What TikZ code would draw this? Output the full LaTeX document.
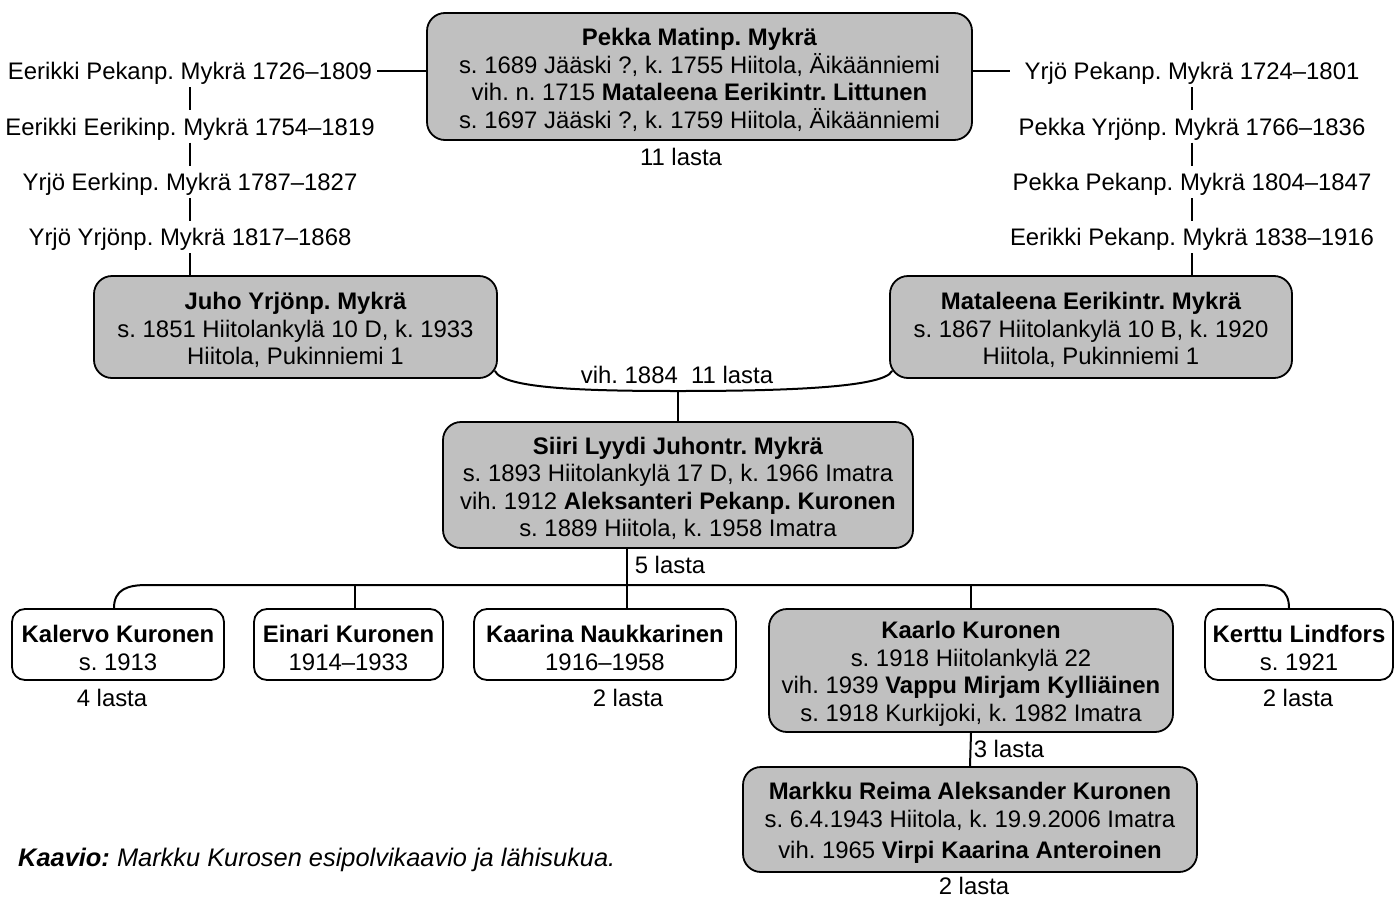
\documentclass[tikz,border=0pt]{standalone}
\usepackage{fontspec}
\setmainfont{Liberation Sans}
\usetikzlibrary{calc}
\definecolor{boxgray}{RGB}{192,192,192}
\newcommand\myfs{\fontsize{23.9}{27.5}\selectfont}
\newcommand\tp{\rule{0pt}{24pt}}
\frenchspacing
\begin{document}
\frenchspacing
\begin{tikzpicture}[x=1pt,y=-1pt,
  gbox/.style={draw, fill=boxgray, line width=1.8pt, rounded corners=18pt, align=center, inner sep=0pt, font=\myfs},
  wbox/.style={draw, fill=white, line width=1.8pt, rounded corners=13pt, align=center, inner sep=0pt, font=\myfs},
  chain/.style={font=\myfs, inner xsep=5pt, inner ysep=7.5pt, text height=17pt, text depth=0pt},
  lbl/.style={font=\myfs, inner sep=0pt},
  conn/.style={line width=2pt},
  tick/.style={line width=1.4pt}]
\fill[white] (0,0) rectangle (1400,897);
\useasboundingbox (0,0) rectangle (1400,897);

% top couple
\node[gbox, minimum width=545pt, minimum height=127pt] (pekka) at (699.5,76.5)
  {\tp\textbf{Pekka Matinp. Mykrä}\\ s. 1689 Jääski ?, k. 1755 Hiitola, Äikäänniemi\\ vih. n. 1715 \textbf{Mataleena Eerikintr. Littunen}\\ s. 1697 Jääski ?, k. 1759 Hiitola, Äikäänniemi};
\node[lbl] (l11) at (681,157) {11 lasta};

% left chain
\node[chain] (e1) at (190,71) {Eerikki Pekanp. Mykrä 1726–1809};
\node[chain] (e2) at (190,126.5) {Eerikki Eerikinp. Mykrä 1754–1819};
\node[chain] (e3) at (190,182) {Yrjö Eerkinp. Mykrä 1787–1827};
\node[chain] (e4) at (190,237) {Yrjö Yrjönp. Mykrä 1817–1868};

% right chain
\node[chain] (y1) at (1192,71) {Yrjö Pekanp. Mykrä 1724–1801};
\node[chain] (y2) at (1192,126.5) {Pekka Yrjönp. Mykrä 1766–1836};
\node[chain] (y3) at (1192,182) {Pekka Pekanp. Mykrä 1804–1847};
\node[chain] (y4) at (1192,237) {Eerikki Pekanp. Mykrä 1838–1916};

% parents
\node[gbox, minimum width=403pt, minimum height=102pt] (juho) at (295.5,327)
  {\tp\textbf{Juho Yrjönp. Mykrä}\\ s. 1851 Hiitolankylä 10 D, k. 1933\\ Hiitola, Pukinniemi 1};
\node[gbox, minimum width=402pt, minimum height=102pt] (mataleena) at (1091,327)
  {\tp\textbf{Mataleena Eerikintr. Mykrä}\\ s. 1867 Hiitolankylä 10 B, k. 1920\\ Hiitola, Pukinniemi 1};
\node[lbl] (lvih) at (677,375) {vih. 1884\ \ 11 lasta};

% Siiri
\node[gbox, minimum width=470pt, minimum height=126pt] (siiri) at (678,485)
  {\tp\textbf{Siiri Lyydi Juhontr. Mykrä}\\ s. 1893 Hiitolankylä 17 D, k. 1966 Imatra\\ vih. 1912 \textbf{Aleksanteri Pekanp. Kuronen}\\ s. 1889 Hiitola, k. 1958 Imatra};
\node[lbl] (l5) at (670,565) {5 lasta};

% children
\node[wbox, minimum width=212pt, minimum height=71pt] (kalervo) at (118,644.5)
  {\tp\textbf{Kalervo Kuronen}\\ s. 1913};
\node[wbox, minimum width=189pt, minimum height=71pt] (einari) at (348.5,644.5)
  {\tp\textbf{Einari Kuronen}\\ 1914–1933};
\node[wbox, minimum width=262pt, minimum height=71pt] (kaarina) at (605,644.5)
  {\tp\textbf{Kaarina Naukkarinen}\\ 1916–1958};
\node[gbox, minimum width=404pt, minimum height=123pt] (kaarlo) at (971,670.5)
  {\tp\textbf{Kaarlo Kuronen}\\ s. 1918 Hiitolankylä 22\\ vih. 1939 \textbf{Vappu Mirjam Kylliäinen}\\ s. 1918 Kurkijoki, k. 1982 Imatra};
\node[wbox, minimum width=188pt, minimum height=71pt] (kerttu) at (1299,644.5)
  {\tp\textbf{Kerttu Lindfors}\\ s. 1921};
\node[lbl] (l4) at (112,698) {4 lasta};
\node[lbl] (l2a) at (628,698) {2 lasta};
\node[lbl] (l2b) at (1298,698) {2 lasta};
\node[lbl] (l3) at (1009,749) {3 lasta};

% Markku
\node[gbox, minimum width=454pt, minimum height=105pt] (markku) at (970,819.5)
  {\tp\textbf{Markku Reima Aleksander Kuronen}\\ s. 6.4.1943 Hiitola, k. 19.9.2006 Imatra\\[4pt] vih. 1965 \textbf{Virpi Kaarina Anteroinen}};
\node[lbl] (l2c) at (974,886) {2 lasta};

% caption
\node[anchor=west, inner sep=0pt, font=\fontsize{25.4}{30}\selectfont] (cap) at (18,860)
  {\textbf{\textit{Kaavio:}} \textit{Markku Kurosen esipolvikaavio ja lähisukua.}};

% connectors: chains
\draw[conn] (e1.east) -- (e1.east -| pekka.west);
\draw[conn] (pekka.east |- y1.west) -- ([xshift=-9pt]y1.west);
\draw[tick] (e1.south) -- (e2.north);
\draw[tick] (e2.south) -- (e3.north);
\draw[tick] (e3.south) -- (e4.north);
\draw[tick] (e4.south) -- (e4.south |- juho.north);
\draw[tick] (y1.south) -- (y2.north);
\draw[tick] (y2.south) -- (y3.north);
\draw[tick] (y3.south) -- (y4.north);
\draw[tick] (y4.south) -- (y4.south |- mataleena.north);

% marriage
\coordinate (jm) at ($(juho.south east)+(-3,-8)$);
\coordinate (mm) at ($(mataleena.south west)+(3,-8)$);
\coordinate (mjy) at (0,391);
\coordinate (mj) at (siiri.north |- mjy);
\draw[conn] (jm) .. controls +(8,18) and +(-90,0) .. (mj) .. controls +(90,0) and +(-8,18) .. (mm);
\draw[conn] (mj) -- (siiri.north);

% children bar
\coordinate (bar) at (0,585);
\coordinate (sd) at ([xshift=-51pt]siiri.south);
\draw[conn] (sd) -- (sd |- kaarina.north);
\coordinate (ka) at ([xshift=-4pt]kalervo.north);
\coordinate (ke) at ([xshift=-10pt]kerttu.north);
\coordinate (bl) at ($(ka |- bar)+(33,0)$);
\coordinate (br) at ($(ke |- bar)+(-31,0)$);
\draw[conn] (ka) .. controls +(0,-19) and +(-19,0) .. (bl) -- (br) .. controls +(19,0) and +(0,-19) .. (ke);
\coordinate (ea) at ([xshift=6.5pt]einari.north);
\draw[conn] (ea) -- (ea |- bar);
\draw[conn] (kaarlo.north) -- (kaarlo.north |- bar);
\draw[conn] (kaarlo.south) -- (markku.north);
\end{tikzpicture}
\end{document}
